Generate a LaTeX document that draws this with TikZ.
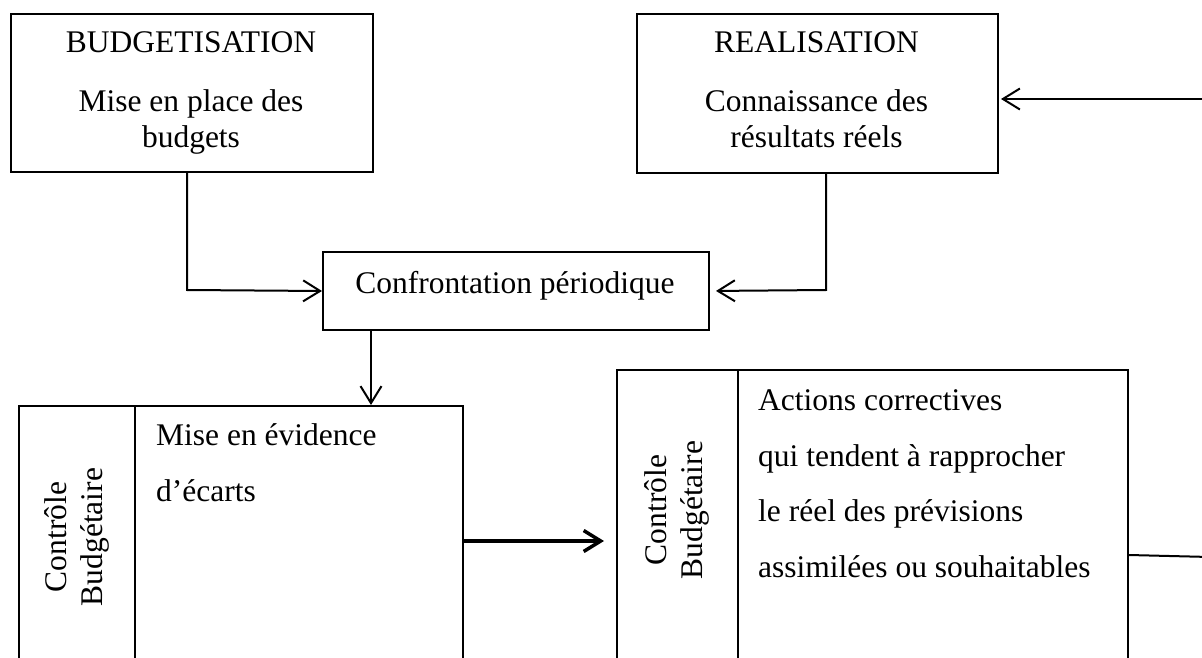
\documentclass[tikz,border=0pt]{standalone}
\usepackage{fontspec}
\setmainfont{Liberation Serif}
\usetikzlibrary{arrows.meta}
\begin{document}
\begin{tikzpicture}[x=1pt,y=-1pt,
  box/.style={draw, line width=2pt, rectangle, inner sep=0pt, anchor=north west},
  txt/.style={inner sep=0pt, font=\fontsize{31.5}{35}\selectfont},
  conn/.style={line width=2pt},
  arr/.style={conn, -{Straight Barb[length=17pt,width=21pt]}},
]
\useasboundingbox (0,0) rectangle (1202,658);
\clip (0,0) rectangle (1202,658);
\fill[white] (0,0) rectangle (1202,658);

% top boxes
\node[box, minimum width=362pt, minimum height=158pt] (b1) at (10,13) {};
\node[box, minimum width=361pt, minimum height=159pt] (b2) at (636,13) {};
\node[txt, anchor=base] (t1a) at (191,53) {BUDGETISATION};
\node[txt, anchor=base] (t1b) at (191,112) {Mise en place des};
\node[txt, anchor=base] (t1c) at (191,147) {budgets};
\node[txt, anchor=base] (t2a) at (816.5,53) {REALISATION};
\node[txt, anchor=base] (t2b) at (816.5,112) {Connaissance des};
\node[txt, anchor=base] (t2c) at (816.5,147) {résultats réels};

% confrontation
\node[box, minimum width=386pt, minimum height=78pt] (conf) at (322,251) {};
\node[txt, anchor=base] (tc) at (515,293) {Confrontation périodique};

% bottom boxes
\node[box, minimum width=444pt, minimum height=320pt] (eL) at (18,405) {};
\node[box, minimum width=511pt, minimum height=340pt] (eR) at (616,369) {};
\coordinate (dL) at (135,0);
\coordinate (dR) at (738,0);
\draw[conn] (eL.north west -| dL) -- (eL.south west -| dL);
\draw[conn] (eR.north west -| dR) -- (eR.south west -| dR);

\node[txt, rotate=90, align=center, font=\fontsize{31.5}{36}\selectfont] (cL) at (77,537) {Contrôle\\Budgétaire};
\node[txt, rotate=90, align=center, font=\fontsize{31.5}{36}\selectfont] (cR) at (677,510) {Contrôle\\Budgétaire};

\node[txt, anchor=base west] (l1) at (156,445) {Mise en évidence};
\node[txt, anchor=base west] (l2) at (156,501) {d’écarts};

\node[txt, anchor=base west] (r1) at (758,410) {Actions correctives};
\node[txt, anchor=base west] (r2) at (758,466) {qui tendent à rapprocher};
\node[txt, anchor=base west] (r3) at (758,521) {le réel des prévisions};
\node[txt, anchor=base west] (r4) at (758,577) {assimilées ou souhaitables};

% connectors
\coordinate (k1) at (187,290);
\draw[arr] (b1.south -| k1) -- (k1) -- (conf.west);
\coordinate (k2) at (826,290);
\draw[arr, shorten >=6pt] (b2.south -| k2) -- (k2) -- (conf.east);
\coordinate (k3) at (371,0);
\draw[arr] (conf.south -| k3) -- (eL.north -| k3);
\coordinate (k4) at (0,541);
\draw[arr, line width=3.5pt, shorten >=12pt] (eL.east |- k4) -- (eR.west |- k4);
\coordinate (k5) at (1210,99);
\draw[arr, shorten >=2pt] (k5) -- (b2.east |- k5);
\coordinate (k6) at (0,555);
\coordinate (k7) at (1210,557);
\draw[conn] (eR.east |- k6) -- (k7);
\end{tikzpicture}
\end{document}
